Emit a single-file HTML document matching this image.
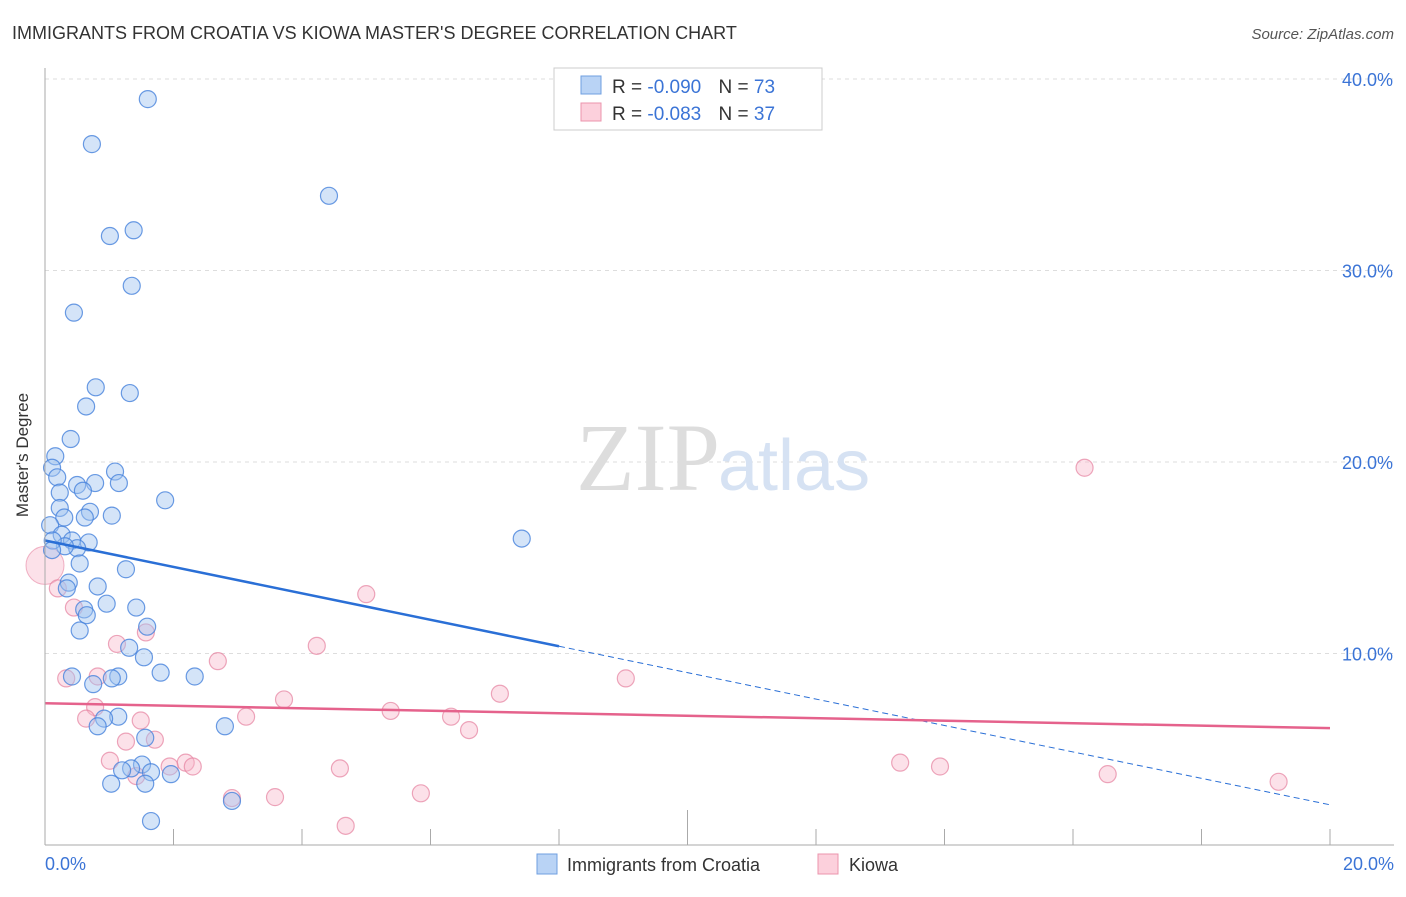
<!DOCTYPE html>
<html><head><meta charset="utf-8"><style>
body{margin:0;background:#fff;font-family:"Liberation Sans",sans-serif}
svg text{font-family:"Liberation Sans",sans-serif}
</style></head><body>
<svg width="1406" height="892">
<text x="12" y="39" font-size="18" fill="#333">IMMIGRANTS FROM CROATIA VS KIOWA MASTER'S DEGREE CORRELATION CHART</text>
<text x="1394" y="39" font-size="15" fill="#555" text-anchor="end" font-style="italic">Source: ZipAtlas.com</text>
<g id="grid"></g>
<text x="720" y="490" font-size="96" fill="#ddd" text-anchor="end" font-family="Liberation Serif" style="font-family:'Liberation Serif',serif">ZIP</text>
<text x="718" y="490" font-size="72" fill="#d6e2f3">atlas</text>
<g id="pts"></g>
<g id="trend"></g>
<line x1="45" y1="845" x2="1394" y2="845" stroke="#aaa"/>
<line x1="45" y1="68" x2="45" y2="845" stroke="#aaa"/>
<g id="ticks"></g>
<text x="28" y="455" font-size="17" fill="#333" transform="rotate(-90 28 455)" text-anchor="middle">Master's Degree</text>
<text x="45" y="870" font-size="18" fill="#3b74d6">0.0%</text>
<text x="1394" y="870" font-size="18" fill="#3b74d6" text-anchor="end">20.0%</text>
<g>
<rect x="537" y="854" width="20" height="20" fill="#b9d3f5" stroke="#6f9fe0"/>
<text x="567" y="871" font-size="18" fill="#333">Immigrants from Croatia</text>
<rect x="818" y="854" width="20" height="20" fill="#fcd0dc" stroke="#eb94ad"/>
<text x="849" y="871" font-size="18" fill="#333">Kiowa</text>
</g>
<g>
<rect x="554" y="68" width="268" height="62" fill="#fff" stroke="#ccc"/>
<rect x="581" y="76" width="20" height="18" fill="#b9d3f5" stroke="#6f9fe0"/>
<rect x="581" y="103" width="20" height="18" fill="#fcd0dc" stroke="#eb94ad"/>
<text x="612" y="93" font-size="19" fill="#333">R = <tspan fill="#3b74d6">-0.090</tspan>  <tspan dx="12">N = </tspan><tspan fill="#3b74d6">73</tspan></text>
<text x="612" y="120" font-size="19" fill="#333">R = <tspan fill="#3b74d6"> -0.083</tspan>  <tspan dx="12">N = </tspan><tspan fill="#3b74d6">37</tspan></text>
</g>
</svg>
<script>
const yTicks=[10,20,30,40];
const yTickLabels=["10.0%","20.0%","30.0%","40.0%"];
const xTicks=[0,2,4,6,8,10,12,14,16,18,20];
const croatiaX=[1.60,0.73,4.42,1.01,1.38,1.35,0.45,0.79,1.32,0.64,0.40,0.16,0.11,0.19,1.09,1.15,0.78,0.50,0.59,0.23,1.87,7.42,0.23,0.70,0.62,1.04,0.30,0.08,0.26,0.42,0.68,0.50,0.31,0.12,0.11,0.54,1.26,0.37,0.82,0.34,0.96,0.61,1.42,0.65,0.54,1.59,1.31,1.54,1.80,2.33,0.42,0.75,1.14,1.04,1.14,0.92,0.82,2.80,1.56,1.51,1.34,1.20,1.65,1.96,1.03,1.56,2.91,1.65];
const croatiaY=[38.95,36.6,33.9,31.8,32.1,29.2,27.8,23.9,23.6,22.9,21.2,20.3,19.7,19.2,19.5,18.9,18.9,18.8,18.5,18.4,18.0,16.0,17.6,17.4,17.1,17.2,17.1,16.7,16.2,15.9,15.8,15.5,15.6,15.9,15.4,14.7,14.4,13.7,13.5,13.4,12.6,12.3,12.4,12.0,11.2,11.4,10.3,9.8,9.0,8.8,8.8,8.4,8.8,8.7,6.7,6.6,6.2,6.2,5.6,4.2,4.0,3.9,3.8,3.7,3.2,3.2,2.3,1.25];
const kiowaX=[0.20,0.45,5.0,1.12,1.57,4.23,2.69,0.82,0.33,9.04,16.18,7.08,3.72,0.78,5.38,3.13,6.32,0.64,1.49,6.60,1.26,1.71,1.01,2.19,2.30,1.94,1.42,4.59,13.31,13.93,16.54,19.2,2.91,3.58,5.85,4.68];
const kiowaY=[13.4,12.4,13.1,10.5,11.1,10.4,9.6,8.8,8.7,8.7,19.7,7.9,7.6,7.2,7.0,6.7,6.7,6.6,6.5,6.0,5.4,5.5,4.4,4.3,4.1,4.1,3.6,4.0,4.3,4.1,3.7,3.3,2.45,2.5,2.7,1.0];
const trendCroatia=[15.9,2.1];
const trendKiowa=[7.4,6.1];
const NS="http://www.w3.org/2000/svg";
const sx=v=>45+v/20*1285, sy=v=>845-v*19.15;
function mk(t,a,p){const e=document.createElementNS(NS,t);for(const k in a)e.setAttribute(k,a[k]);document.getElementById(p).appendChild(e);return e;}
yTicks.forEach((t,i)=>{
const l=mk('line',{x1:45,x2:1394,y1:sy(t),y2:sy(t),stroke:'#ddd','stroke-dasharray':'4,4'},'grid');


const tx=mk('text',{x:1393,y:sy(t)+7,'font-size':18,fill:'#3b74d6','text-anchor':'end'},'grid');
tx.textContent=yTickLabels[i];


});
xTicks.forEach((t,i)=>{
const l=mk('line',{x1:sx(t),x2:sx(t),y1:(i==5?810:829),y2:845,stroke:'#aaa'},'ticks');


});
mk('circle',{cx:sx(0),cy:sy(14.6),r:19,fill:'rgba(248,180,200,0.4)',stroke:'rgba(230,130,160,0.6)'},'pts');
kiowaX.forEach((x,i)=>{
const c=mk('circle',{cx:sx(x),cy:sy(kiowaY[i]),r:8.5,fill:'rgba(248,180,200,0.4)',stroke:'rgba(230,130,160,0.7)','stroke-width':1.2},'pts');


});
croatiaX.forEach((x,i)=>{
const c=mk('circle',{cx:sx(x),cy:sy(croatiaY[i]),r:8.5,fill:'rgba(160,195,240,0.45)',stroke:'rgba(70,130,220,0.8)','stroke-width':1.2},'pts');


});
const yc=x=>trendCroatia[0]+(trendCroatia[1]-trendCroatia[0])*x/20;
let t1=mk('line',{x1:sx(0),y1:sy(yc(0)),x2:sx(8),y2:sy(yc(8)),stroke:'#2a6fd6','stroke-width':2.5},'trend');


let t2=mk('line',{x1:sx(8),y1:sy(yc(8)),x2:sx(20),y2:sy(yc(20)),stroke:'#2a6fd6','stroke-width':1,'stroke-dasharray':'6,4'},'trend');


let t3=mk('line',{x1:sx(0),y1:sy(trendKiowa[0]),x2:sx(20),y2:sy(trendKiowa[1]),stroke:'#e5628c','stroke-width':2.5},'trend');


</script>
</body></html>
